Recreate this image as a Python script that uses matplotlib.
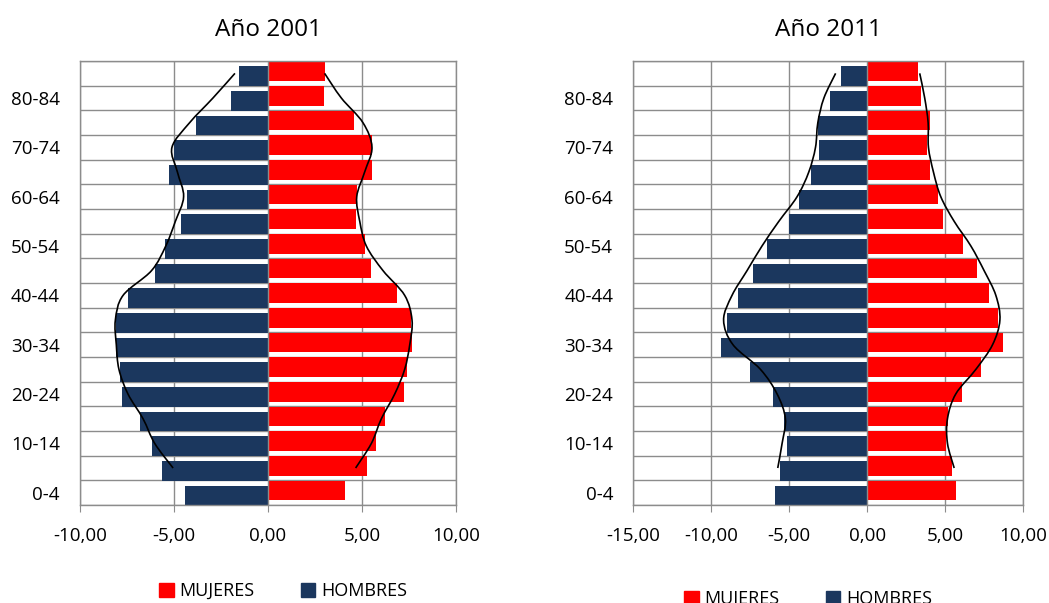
import matplotlib
matplotlib.use("Agg")
import matplotlib.pyplot as plt
import numpy as np
from matplotlib.path import Path
from matplotlib.patches import PathPatch, Patch
from matplotlib.ticker import FuncFormatter, FixedLocator

plt.rcParams['font.family'] = ['Open Sans', 'DejaVu Sans']

ages = ['0-4', '5-9', '10-14', '15-19', '20-24', '25-29', '30-34', '35-39', '40-44',
        '45-49', '50-54', '55-59', '60-64', '65-69', '70-74', '75-79', '80-84', '85+']

men_2001 = [-4.43, -5.62, -6.15, -6.79, -7.78, -7.89, -8.07, -8.10, -7.46, -6.03,
            -5.46, -4.63, -4.33, -5.28, -5.02, -3.81, -1.95, -1.54]
women_2001 = [4.10, 5.27, 5.76, 6.21, 7.22, 7.39, 7.64, 7.59, 6.84, 5.46,
              5.14, 4.66, 4.75, 5.53, 5.53, 4.59, 2.98, 3.01]
# overlay lines (5-9 .. 85+)
line_men_2001 = [-5.05, -6.03, -6.65, -7.45, -7.93, -8.07, -8.12, -7.71, -6.20,
                 -5.44, -4.93, -4.49, -4.82, -5.11, -4.17, -2.93, -1.76]
line_women_2001 = [4.66, 5.50, 6.03, 6.74, 7.27, 7.54, 7.66, 7.27, 6.12,
                   5.23, 4.88, 4.72, 5.14, 5.53, 5.05, 3.90, 3.01]

men_2011 = [-5.91, -5.57, -5.14, -5.35, -6.04, -7.54, -9.40, -8.99, -8.27, -7.34,
            -6.40, -4.99, -4.35, -3.60, -3.10, -3.19, -2.36, -1.69]
women_2011 = [5.67, 5.46, 5.05, 5.20, 6.04, 7.32, 8.67, 8.35, 7.82, 7.02,
              6.15, 4.84, 4.52, 4.05, 3.85, 4.03, 3.47, 3.25]
line_men_2011 = [-5.74, -5.46, -5.25, -5.78, -6.85, -8.61, -9.21, -8.67, -7.71,
                 -6.75, -5.67, -4.50, -3.75, -3.32, -3.17, -2.78, -2.03]
line_women_2011 = [5.57, 5.14, 5.14, 5.67, 6.96, 8.03, 8.50, 8.24, 7.49,
                   6.64, 5.57, 4.71, 4.24, 3.92, 3.90, 3.68, 3.36]

RED = '#ff0000'
BLUE = '#1b375e'
GRID = '#8c8c8c'


def smooth_path(xs, ys):
    pts = np.column_stack([xs, ys])
    n = len(pts)
    verts = [pts[0]]
    codes = [Path.MOVETO]
    for i in range(n - 1):
        p0 = pts[i - 1] if i > 0 else pts[i]
        p1 = pts[i]
        p2 = pts[i + 1]
        p3 = pts[i + 2] if i + 2 < n else pts[i + 1]
        c1 = p1 + (p2 - p0) / 6.0
        c2 = p2 - (p3 - p1) / 6.0
        verts += [c1, c2, p2]
        codes += [Path.CURVE4] * 3
    return Path(verts, codes)


def pyramid(ax, title, men, women, lmen, lwomen, xmin, xmax):
    y = np.arange(len(ages))
    ax.barh(y + 0.09, women, height=0.8, color=RED, zorder=2, edgecolor='none')
    ax.barh(y - 0.11, men, height=0.8, color=BLUE, zorder=2, edgecolor='none')
    ly = y[1:]
    for vals in (lmen, lwomen):
        ax.add_patch(PathPatch(smooth_path(vals, ly), facecolor='none',
                               edgecolor='black', lw=1.2, zorder=4))
    ax.set_xlim(xmin, xmax)
    ax.set_ylim(-0.5, len(ages) - 0.5)
    ax.xaxis.set_major_locator(FixedLocator(np.arange(xmin, xmax + 0.1, 5)))
    ax.xaxis.set_major_formatter(FuncFormatter(lambda v, p: f"{v:.2f}".replace('.', ',')))
    ax.set_yticks(y[::2])
    ax.set_yticklabels(ages[::2])
    for b in np.arange(-0.5, len(ages), 1.0):
        ax.axhline(b, color=GRID, lw=1.0, zorder=1)
    for t in np.arange(xmin, xmax + 0.1, 5):
        ax.axvline(t, color=GRID, lw=1.0, zorder=1 if t != 0 else 3)
    for s in ax.spines.values():
        s.set_color(GRID)
        s.set_linewidth(1.0)
    ax.tick_params(axis='y', length=0, pad=14.5, labelsize=13.5)
    ax.tick_params(axis='x', length=5, color=GRID, pad=10.5, labelsize=13.5)
    ax.set_title(title, fontsize=17.5, pad=18)


fig = plt.figure(figsize=(10.49, 6.03), dpi=100)
ax1 = fig.add_axes([0.0763, 0.1625, 0.3584, 0.7363])
ax2 = fig.add_axes([0.6037, 0.1625, 0.3718, 0.7363])

pyramid(ax1, 'Año 2001', men_2001, women_2001, line_men_2001, line_women_2001, -10, 10)
pyramid(ax2, 'Año 2011', men_2011, women_2011, line_men_2011, line_women_2011, -15, 10)

handles = [Patch(color=RED, label='MUJERES'), Patch(color=BLUE, label='HOMBRES')]
for cx, cy in ((283 / 1049, 1 - 591 / 603), (808 / 1049, 1 - 599 / 603)):
    fig.legend(handles=handles, loc='center', bbox_to_anchor=(cx, cy), ncol=2,
               frameon=False, fontsize=13, handlelength=0.8, handleheight=0.8,
               handletextpad=0.3, columnspacing=2.6)

fig.savefig('out.png', dpi=100)
